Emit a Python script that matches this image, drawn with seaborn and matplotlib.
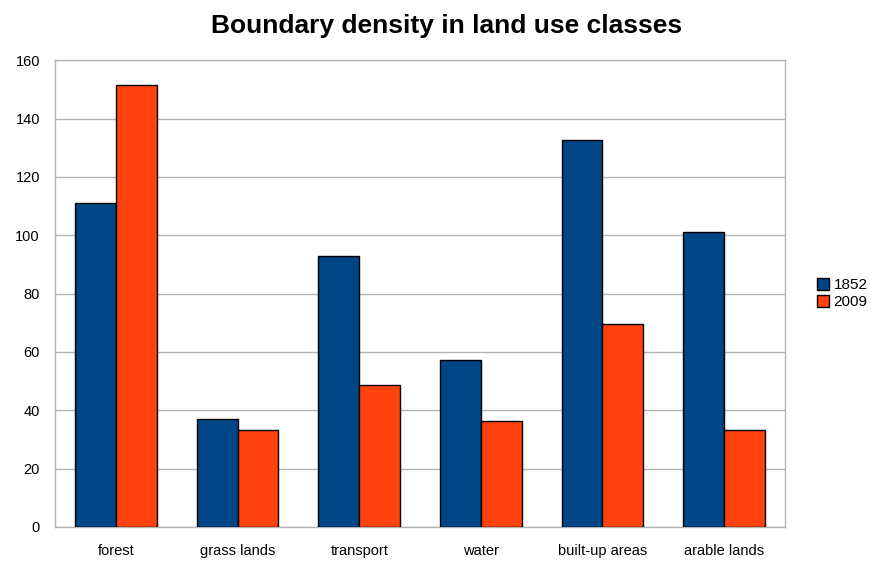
import numpy as np
import pandas as pd
import matplotlib.pyplot as plt
import seaborn as sns

sns.set_theme(style="white")
plt.rcParams["font.family"] = ["Liberation Sans", "DejaVu Sans"]

# Dados
CATEGORIAS = ["forest", "grass lands", "transport", "water", "built-up areas", "arable lands"]
ANOS = ["1852", "2009"]
VALORES_1852 = [111, 37, 93, 57.3, 132.5, 101.2]
VALORES_2009 = [151.5, 33.1, 48.7, 36.2, 69.6, 33.3]
CORES = ["#004586", "#ff420e"]

df = pd.DataFrame({
    "classe": CATEGORIAS * 2,
    "ano": [ANOS[0]] * len(CATEGORIAS) + [ANOS[1]] * len(CATEGORIAS),
    "valor": VALORES_1852 + VALORES_2009,
})

fig = plt.figure(figsize=(8.76, 5.63), dpi=100)
ax = fig.add_axes([0.063, 0.064, 0.833, 0.829])

sns.barplot(data=df, x="classe", y="valor", hue="ano", palette=CORES,
            saturation=1, width=0.67, edgecolor="black", linewidth=1,
            ax=ax, zorder=3)

ax.set_ylim(0, 160)
ax.set_xlim(-0.5, len(CATEGORIAS) - 0.5)
ax.set_yticks(np.arange(0, 161, 20))
ax.yaxis.grid(True, color="#b3b3b3", linewidth=1, zorder=0)
ax.set_axisbelow(True)
ax.set_xlabel("")
ax.set_ylabel("")

# ticks nas fronteiras das categorias
ax.set_xticks(range(len(CATEGORIAS)))
ax.set_xticklabels(CATEGORIAS, fontsize=10.5)
ax.set_xticks(np.arange(-0.5, len(CATEGORIAS), 1), minor=True)
ax.tick_params(axis="x", which="major", length=0, pad=12)
ax.tick_params(axis="x", which="minor", length=6, color="#b3b3b3", width=1)
ax.tick_params(axis="y", length=5, color="#b3b3b3", width=1, labelsize=10.5, pad=6)
ax.tick_params(axis="both", labelcolor="black")

for s in ax.spines.values():
    s.set_visible(True)
    s.set_color("#b3b3b3")
    s.set_linewidth(1)

fig.suptitle("Boundary density in land use classes", fontsize=19,
             fontweight="bold", color="black", y=0.975, x=0.51)

leg = ax.legend(loc="center left", bbox_to_anchor=(1.025, 0.5), frameon=False,
                handlelength=0.8, handleheight=0.8, handletextpad=0.3,
                fontsize=11, labelspacing=0.2, title=None)
for t in leg.get_texts():
    t.set_color("black")

fig.savefig("out.png", dpi=100)
